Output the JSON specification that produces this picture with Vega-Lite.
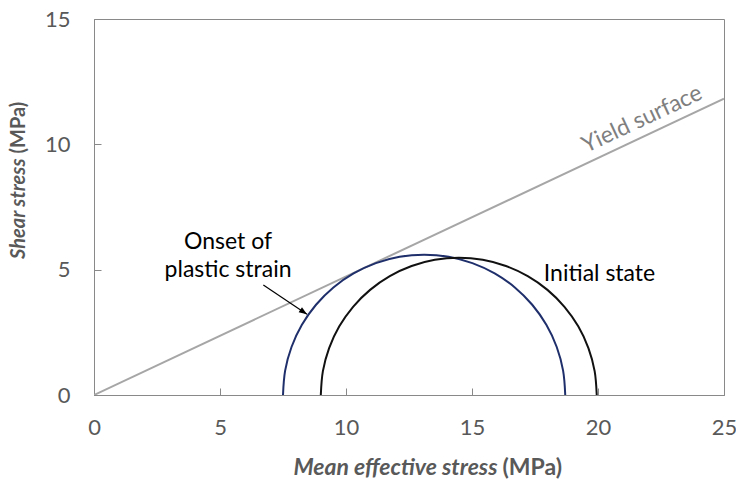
{
  "$schema": "https://vega.github.io/schema/vega-lite/v6.json",
  "width": 630,
  "height": 376,
  "autosize": "none",
  "padding": {"left": 94, "top": 19, "right": 12, "bottom": 85},
  "config": {"view": {"stroke": "#898989", "strokeWidth": 1}, "font": "Lato"},
  "datasets": {
    "yield": [{"x": 0, "y": 0}, {"x": 25, "y": 11.82}],
    "blue": [
      {"x": 7.5, "y": 0}, {"x": 7.585, "y": 0.972}, {"x": 7.838, "y": 1.915}, {"x": 8.25, "y": 2.8},
      {"x": 8.81, "y": 3.6}, {"x": 9.5, "y": 4.29}, {"x": 10.3, "y": 4.85}, {"x": 11.185, "y": 5.262},
      {"x": 12.128, "y": 5.515}, {"x": 13.1, "y": 5.6}, {"x": 14.072, "y": 5.515}, {"x": 15.015, "y": 5.262},
      {"x": 15.9, "y": 4.85}, {"x": 16.7, "y": 4.29}, {"x": 17.39, "y": 3.6}, {"x": 17.95, "y": 2.8},
      {"x": 18.362, "y": 1.915}, {"x": 18.615, "y": 0.972}, {"x": 18.7, "y": 0}
    ],
    "black": [
      {"x": 9.0, "y": 0}, {"x": 9.083, "y": 0.95}, {"x": 9.33, "y": 1.872}, {"x": 9.734, "y": 2.738},
      {"x": 10.281, "y": 3.519}, {"x": 10.956, "y": 4.194}, {"x": 11.738, "y": 4.741}, {"x": 12.603, "y": 5.145},
      {"x": 13.525, "y": 5.392}, {"x": 14.475, "y": 5.475}, {"x": 15.425, "y": 5.392}, {"x": 16.347, "y": 5.145},
      {"x": 17.212, "y": 4.741}, {"x": 17.994, "y": 4.194}, {"x": 18.669, "y": 3.519}, {"x": 19.216, "y": 2.738},
      {"x": 19.62, "y": 1.872}, {"x": 19.867, "y": 0.95}, {"x": 19.95, "y": 0}
    ],
    "arrow": [{"x": 6.72, "y": 4.39, "x2": 8.45, "y2": 3.22}],
    "labels": [
      {"x": 5.32, "y": 6.1, "text": "Onset of"},
      {"x": 5.32, "y": 4.99, "text": "plastic strain"},
      {"x": 20.06, "y": 4.83, "text": "Initial state"}
    ],
    "yieldLabel": [{"x": 21.75, "y": 11.0, "text": "Yield surface"}]
  },
  "resolve": {"axis": {"x": "independent", "y": "independent"}},
  "layer": [
    {
      "data": {"name": "yield"},
      "mark": {"type": "line", "color": "#A6A6A6", "strokeWidth": 2, "clip": true},
      "encoding": {
        "x": {
          "field": "x", "type": "quantitative",
          "scale": {"domain": [0, 25], "nice": false, "zero": false},
          "axis": {
            "orient": "bottom", "values": [0, 5, 10, 15, 20, 25], "grid": false,
            "domainColor": "#898989", "tickColor": "#898989", "tickSize": -7, "tickWidth": 1,
            "labelFont": "Lato", "labelFontSize": 22, "labelColor": "#595959", "labelPadding": 29, "labelFlush": false,
            "title": "Mean effective stress", "titleFont": "Lato", "titleFontSize": 23, "titleFontWeight": "bold",
            "titleFontStyle": "italic", "titleColor": "#595959", "titleAlign": "right", "titleBaseline": "middle",
            "titleX": 403, "titleY": 72
          }
        },
        "y": {
          "field": "y", "type": "quantitative",
          "scale": {"domain": [0, 15], "nice": false, "zero": false},
          "axis": {
            "orient": "left", "values": [0, 5, 10, 15], "grid": false,
            "domainColor": "#898989", "tickColor": "#898989", "tickSize": -7, "tickWidth": 1,
            "labelFont": "Lato", "labelFontSize": 22, "labelColor": "#595959", "labelPadding": 31, "labelFlush": false,
            "title": "Shear stress", "titleFont": "Lato", "titleFontSize": 20, "titleFontWeight": "bold",
            "titleFontStyle": "italic", "titleColor": "#595959", "titleAngle": 270, "titleAlign": "right",
            "titleBaseline": "middle", "titleX": -76, "titleY": 139
          }
        }
      }
    },
    {
      "data": {"name": "blue"},
      "mark": {"type": "line", "color": "#1F2F6B", "strokeWidth": 2, "interpolate": "cardinal"},
      "encoding": {
        "x": {"field": "x", "type": "quantitative", "axis": null},
        "y": {"field": "y", "type": "quantitative", "axis": null}
      }
    },
    {
      "data": {"name": "black"},
      "mark": {"type": "line", "color": "#111111", "strokeWidth": 2, "interpolate": "cardinal"},
      "encoding": {
        "x": {"field": "x", "type": "quantitative", "axis": null},
        "y": {"field": "y", "type": "quantitative", "axis": null}
      }
    },
    {
      "data": {"name": "arrow"},
      "mark": {"type": "rule", "color": "#000000", "strokeWidth": 1.2},
      "encoding": {
        "x": {"field": "x", "type": "quantitative", "axis": null},
        "y": {"field": "y", "type": "quantitative", "axis": null},
        "x2": {"field": "x2"},
        "y2": {"field": "y2"}
      }
    },
    {
      "data": {"name": "arrow"},
      "mark": {"type": "point", "shape": "M0,0L-2,-0.75L-2,0.75Z", "filled": true, "color": "#000000", "size": 64, "angle": 34, "opacity": 1},
      "encoding": {
        "x": {"field": "x2", "type": "quantitative", "axis": null},
        "y": {"field": "y2", "type": "quantitative", "axis": null}
      }
    },
    {
      "data": {"name": "labels"},
      "mark": {"type": "text", "font": "Lato", "fontSize": 23, "color": "#000000", "align": "center", "baseline": "middle"},
      "encoding": {
        "x": {"field": "x", "type": "quantitative", "axis": null},
        "y": {"field": "y", "type": "quantitative", "axis": null},
        "text": {"field": "text"}
      }
    },
    {
      "data": {"name": "yieldLabel"},
      "mark": {"type": "text", "font": "Lato", "fontSize": 23, "color": "#7F7F7F", "align": "center", "baseline": "middle", "angle": -25},
      "encoding": {
        "x": {
          "field": "x", "type": "quantitative",
          "axis": {
            "orient": "top", "title": "(MPa)", "labels": false, "ticks": false, "domain": false, "grid": false,
            "titleFont": "Lato", "titleFontSize": 23, "titleFontWeight": "bold", "titleFontStyle": "normal",
            "titleColor": "#595959", "titleAlign": "left", "titleBaseline": "middle", "titleAngle": 0,
            "titleX": 408, "titleY": 448
          }
        },
        "y": {
          "field": "y", "type": "quantitative",
          "axis": {
            "orient": "right", "title": "(MPa)", "labels": false, "ticks": false, "domain": false, "grid": false,
            "titleFont": "Lato", "titleFontSize": 20, "titleFontWeight": "bold", "titleFontStyle": "normal",
            "titleColor": "#595959", "titleAlign": "left", "titleBaseline": "middle", "titleAngle": 270,
            "titleX": -706, "titleY": 134
          }
        },
        "text": {"field": "text"}
      }
    }
  ]
}
